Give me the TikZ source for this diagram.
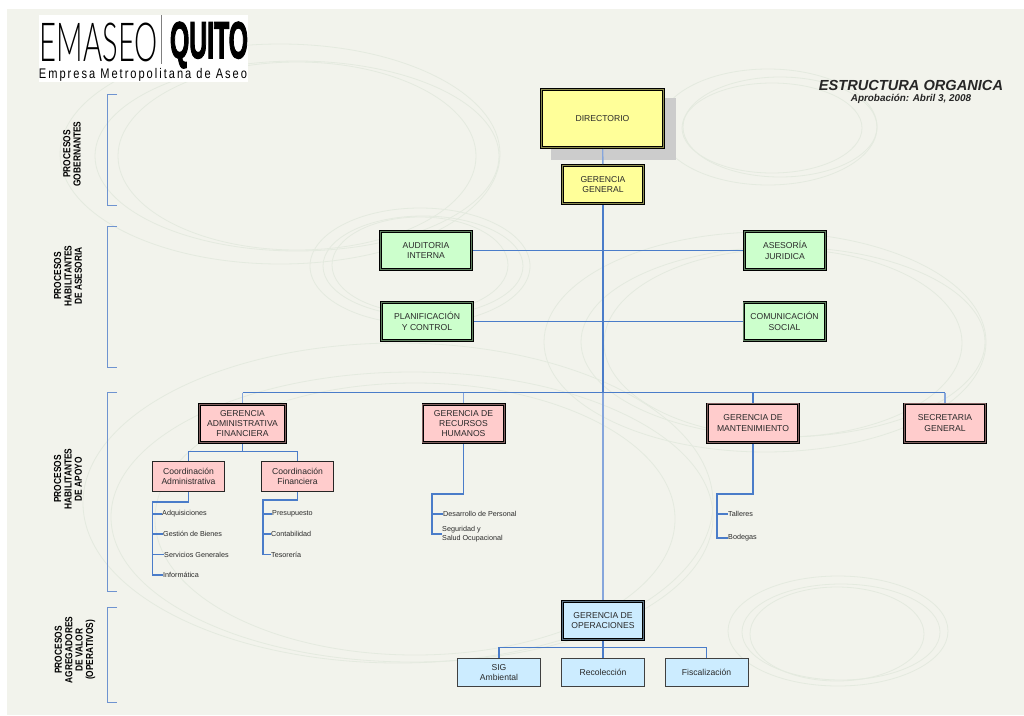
\documentclass[tikz,border=0pt]{standalone}
\usepackage{fontspec}
\usetikzlibrary{positioning}
\setmainfont{Liberation Sans}
\newfontfamily\logothin{Lato Light}
\newfontfamily\logobold[FakeBold=3]{Liberation Sans Bold}
\newfontfamily\logospaced[LetterSpace=18]{Liberation Sans}
\newcommand{\boxfont}{\fontsize{8.6}{10.4}\selectfont}
\newcommand{\leaffont}{\fontsize{7.2}{8.8}\selectfont}
\newcommand{\sidefont}{\fontsize{10.2}{10.4}\selectfont\bfseries}
\definecolor{paper}{HTML}{F2F3EC}
\definecolor{ringcol}{HTML}{E4EADF}
\definecolor{wirecol}{HTML}{4A7CC9}
\definecolor{wirelight}{HTML}{86A6DC}
\definecolor{brkcol}{HTML}{6E93D0}
\definecolor{boxtext}{HTML}{2A2A2A}
\definecolor{fillyel}{HTML}{FFFF99}
\definecolor{fillgre}{HTML}{CCFFCC}
\definecolor{fillred}{HTML}{FFCCCC}
\definecolor{fillblu}{HTML}{CCECFF}
\definecolor{gapyel}{HTML}{8C8C50}
\definecolor{gapgre}{HTML}{5F7F5F}
\definecolor{gapred}{HTML}{806060}
\definecolor{gapblu}{HTML}{5A7080}
\tikzset{
  dbox/.style={draw=black, double=#1, double distance=1.2pt, line width=.7pt, outer sep=1.3pt,
    align=center, font=\boxfont, text=boxtext, minimum width=81.4pt, minimum height=38.4pt, inner sep=0pt},
  sbox/.style={draw=#1, line width=1pt, outer sep=.5pt, align=center, font=\boxfont, text=boxtext, inner sep=0pt},
  leaf/.style={anchor=west, inner sep=0pt, align=left, font=\leaffont, text=boxtext},
  side/.style={rotate=90, transform shape, xscale=.82, align=center, font=\sidefont, inner sep=0pt},
  wire/.style={draw=wirecol, line width=1.1pt},
  thickwire/.style={draw=wirecol, line width=1.8pt},
  lightwire/.style={draw=wirelight, line width=1.4pt},
  brk/.style={draw=brkcol, line width=1pt},
  ring/.style={draw=ringcol, line width=.8pt}
}

\begin{document}
\begin{tikzpicture}[x=1pt, y=-1pt]
    %\draw [help lines] (0, 0) grid (1024, 715);
    \useasboundingbox (0, 0) rectangle (1024, 715);
    \fill [paper] (7, 9) rectangle (1024, 715);

    \begin{scope}
    \clip (7, 9) rectangle (1024, 715);
    \draw [ring] (280, 154) ellipse [x radius=220, y radius=110];
    \draw [ring] (297, 156) ellipse [x radius=202, y radius=95];
    \draw [ring] (297, 156) ellipse [x radius=179, y radius=94];
    \draw [ring] (420, 266) ellipse [x radius=110, y radius=58];
    \draw [ring] (423, 266) ellipse [x radius=100, y radius=50];
    \draw [ring] (420, 265) ellipse [x radius=88, y radius=48];
    \draw [ring] (765, 342) ellipse [x radius=221, y radius=110];
    \draw [ring] (783, 342) ellipse [x radius=202, y radius=95];
    \draw [ring] (783, 343) ellipse [x radius=179, y radius=94];
    \draw [ring] (768, 127) ellipse [x radius=109, y radius=58];
    \draw [ring] (780, 127) ellipse [x radius=97, y radius=50];
    \draw [ring] (772, 128) ellipse [x radius=90, y radius=45];
    \draw [ring] (838, 631) ellipse [x radius=110, y radius=55];
    \draw [ring] (841, 632) ellipse [x radius=99, y radius=48];
    \draw [ring] (837, 634) ellipse [x radius=87, y radius=47];
    \draw [ring] (398, 503) ellipse [x radius=315, y radius=160];
    \draw [ring] (412, 517) ellipse [x radius=301, y radius=145];
    \draw [ring] (415, 519) ellipse [x radius=260, y radius=136];
    \end{scope}

    \node [fill=white, minimum width=209pt, minimum height=67pt, inner sep=0pt] (logo_bg) at (143.5, 48.5) {};
    \node [anchor=base, inner sep=0pt] (logo_emaseo) at (99, 61.5) {\resizebox{118pt}{38.5pt}{\logothin EMASEO}};
    \node [anchor=base, inner sep=0pt] (logo_quito) at (209, 58) {\resizebox{78pt}{36pt}{\logobold QUITO}};
    \node [inner sep=0pt] (logo_lema) at (143, 75) {\resizebox*{208pt}{13pt}{\logospaced Empresa Metropolitana de Aseo}};
    \coordinate (logo_bar_top) at (161, 15);
    \coordinate (logo_bar_bot) at (161, 64);
    \draw [gray, line width=1pt] (logo_bar_top) -- (logo_bar_bot);

    \node [font=\fontsize{14.6}{16}\selectfont\bfseries\itshape, text=black!85, inner sep=0pt] (titulo) at (911, 85) {ESTRUCTURA ORGANICA};
    \node [below=3.5pt of titulo, font=\fontsize{9.9}{12}\selectfont\bfseries\itshape, text=black!85, inner sep=0pt] (aprobacion) {Aprobación: Abril 3, 2008};

    % procesos
    \coordinate (gob_top) at (117, 94);
    \coordinate (gob_bot) at (117, 205);
    \coordinate (ase_top) at (117, 226);
    \coordinate (ase_bot) at (117, 367);
    \coordinate (apo_top) at (117, 392);
    \coordinate (apo_bot) at (117, 591);
    \coordinate (agr_top) at (117, 607);
    \coordinate (agr_bot) at (117, 702);
    \draw [brk] (gob_top) -- ++(-10, 0) |- (gob_bot);
    \draw [brk] (ase_top) -- ++(-10, 0) |- (ase_bot);
    \draw [brk] (apo_top) -- ++(-10, 0) |- (apo_bot);
    \draw [brk] (agr_top) -- ++(-10, 0) |- (agr_bot);
    \node [side] (lab_gob) at (72, 154) {PROCESOS\\GOBERNANTES};
    \node [side] (lab_ase) at (68, 276) {PROCESOS\\HABILITANTES\\DE ASESORIA};
    \node [side] (lab_apo) at (68, 479) {PROCESOS\\HABILITANTES\\DE APOYO};
    \node [side] (lab_agr) at (75, 650) {PROCESOS\\AGREGADORES\\DE VALOR\\(OPERATIVOS)};

    \node [fill=black!20, minimum width=125pt, minimum height=62pt, inner sep=0pt] (dir_shadow) at (613.5, 129) {};

    % gerencias
    \node [dbox=gapyel, fill=fillyel, minimum width=122.4pt, minimum height=58.4pt] (dir) at (602.5, 118.5) {DIRECTORIO};
    \node [dbox=gapyel, fill=fillyel] (gg) at (603, 184.5) {GERENCIA\\GENERAL};
    \node [dbox=gapgre, fill=fillgre, minimum width=91.4pt] (aud) at (426, 250.5) {AUDITORIA\\INTERNA};
    \node [dbox=gapgre, fill=fillgre] (ases) at (785, 250.5) {ASESORÍA\\JURIDICA};
    \node [dbox=gapgre, fill=fillgre, minimum width=91.4pt] (pla) at (427, 321.5) {PLANIFICACIÓN\\Y CONTROL};
    \node [dbox=gapgre, fill=fillgre] (com) at (784.5, 321.5) {COMUNICACIÓN\\SOCIAL};
    \node [dbox=gapred, fill=fillred, minimum width=86.4pt] (gaf) at (242.5, 423.5) {GERENCIA\\ADMINISTRATIVA\\FINANCIERA};
    \node [dbox=gapred, fill=fillred] (grh) at (463.5, 423.5) {GERENCIA DE\\RECURSOS\\HUMANOS};
    \node [dbox=gapred, fill=fillred, minimum width=91.4pt] (gma) at (753, 423) {GERENCIA DE\\MANTENIMIENTO};
    \node [dbox=gapred, fill=fillred] (sec) at (945, 423) {SECRETARIA\\GENERAL};
    \node [sbox=black!85, fill=fillred, minimum width=72pt, minimum height=30pt] (cad) at (188.5, 476.5) {Coordinación\\Administrativa};
    \node [sbox=black!85, fill=fillred, minimum width=72pt, minimum height=30pt] (cfi) at (297.5, 476.5) {Coordinación\\Financiera};
    \node [dbox=gapblu, fill=fillblu] (gop) at (603, 620.5) {GERENCIA DE\\OPERACIONES};
    \node [sbox=black!75, fill=fillblu, minimum width=83pt, minimum height=28pt] (sig) at (499, 672.5) {SIG\\Ambiental};
    \node [sbox=black!75, fill=fillblu, minimum width=83pt, minimum height=28pt] (rec) at (603, 672.5) {Recolección};
    \node [sbox=black!75, fill=fillblu, minimum width=83pt, minimum height=28pt] (fis) at (706.5, 672.5) {Fiscalización};

    \node [leaf] (adq) at (162, 514) {Adquisiciones};
    \node [leaf] (ges) at (163, 534) {Gestión de Bienes};
    \node [leaf] (ser) at (164, 554.5) {Servicios Generales};
    \node [leaf] (inf) at (163, 575) {Informática};
    \node [leaf] (pre) at (272, 514) {Presupuesto};
    \node [leaf] (con) at (271, 534) {Contabilidad};
    \node [leaf] (tes) at (271, 554.5) {Tesorería};
    \node [leaf] (des) at (443, 514) {Desarrollo de Personal};
    \node [leaf] (seg) at (442, 534) {Seguridad y\\Salud Ocupacional};
    \node [leaf] (tal) at (728, 514) {Talleres};
    \node [leaf] (bod) at (728, 538) {Bodegas};

    % conexiones
    \coordinate (bus) at (603, 392.5);
    \coordinate (bus_ops) at (603, 647.5);
    \coordinate (cad_t) at (152.5, 502);
    \coordinate (cfi_t) at (263, 500);
    \coordinate (grh_t) at (432, 494);
    \coordinate (gma_t) at (717, 494);
    \coordinate (gaf_b) at (242.5, 451.5);

    \draw [lightwire] (dir) -- (gg);
    \draw [thickwire] (gg) -- (bus);
    \draw [lightwire] (bus) -- (gop);
    \draw [wire] (aud) -- (ases);
    \draw [wire] (pla) -- (com);

    \draw [wire] (gaf |- bus) -- (sec |- bus);
    \draw [lightwire] (gaf |- bus) -- (gaf);
    \draw [lightwire] (grh |- bus) -- (grh);
    \draw [wire] (gma |- bus) -- (gma);
    \draw [lightwire] (sec |- bus) -- (sec);

    \draw [wire] (gaf) -- (gaf_b);
    \draw [wire] (cad) -- (cad |- gaf_b) -- (cfi |- gaf_b) -- (cfi);

    \draw [thickwire, line width=1.3pt] (cad.south) |- (cad_t) -- (cad_t |- inf.west) -- (inf.west);
    \draw [wire] (cad_t |- adq.west) -- (adq.west);
    \draw [wire] (cad_t |- ges.west) -- (ges.west);
    \draw [wire] (cad_t |- ser.west) -- (ser.west);

    \draw [thickwire, line width=1.3pt] (cfi.south) |- (cfi_t) -- (cfi_t |- tes.west) -- (tes.west);
    \draw [wire] (cfi_t |- pre.west) -- (pre.west);
    \draw [wire] (cfi_t |- con.west) -- (con.west);

    \draw [thickwire] (grh.south) |- (grh_t) -- (grh_t |- seg.west) -- (seg.west);
    \draw [wire] (grh_t |- des.west) -- (des.west);

    \draw [thickwire, line width=1.4pt] (gma.south) |- (gma_t) -- (gma_t |- bod.west) -- (bod.west);
    \draw [wire] (gma_t |- tal.west) -- (tal.west);

    \draw [wire] (gop) -- (rec);
    \draw [wire] (sig) -- (sig |- bus_ops) -- (fis |- bus_ops) -- (fis);

\end{tikzpicture}
\end{document}
